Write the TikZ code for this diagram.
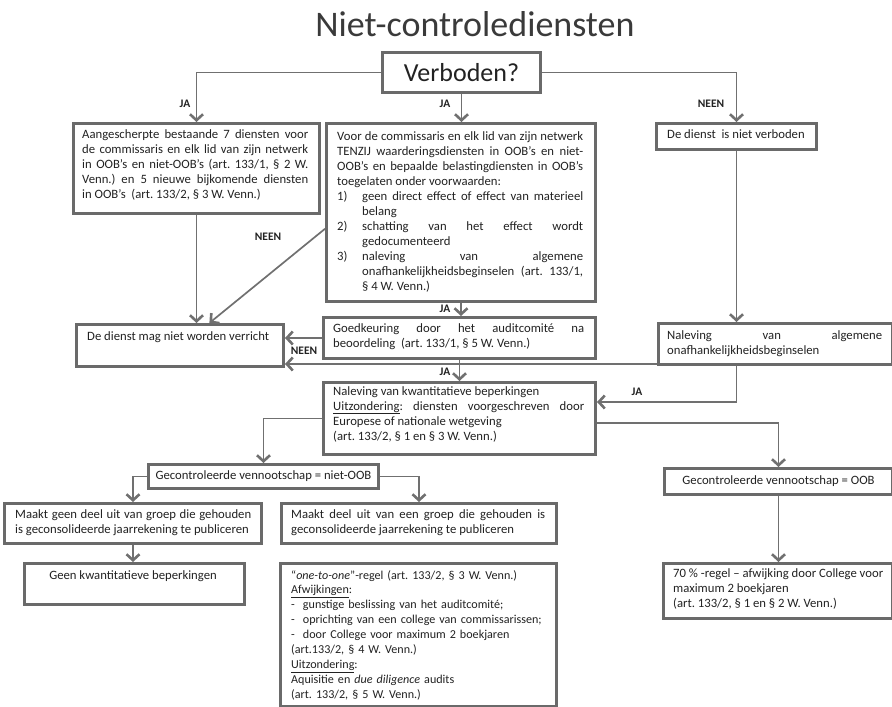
\documentclass[tikz,border=0pt]{standalone}
\usepackage{fontspec}
\setmainfont{Carlito}
\usetikzlibrary{arrows.meta,calc}
\definecolor{bord}{HTML}{6A6A6A}
\definecolor{conn}{HTML}{707070}
\definecolor{ink}{HTML}{222222}
\definecolor{ttl}{HTML}{3A3A3A}
\newcommand\fs{\fontsize{12.7}{15}\selectfont}
\newcommand\fsb{\fontsize{12.1}{14.9}\selectfont}
\frenchspacing
\begin{document}
\frenchspacing
\begin{tikzpicture}[x=1pt,y=-1pt,
 box/.style={draw=bord, line width=3pt, anchor=north west, inner sep=0pt, rectangle, fill=white},
 tx/.style={inner sep=0pt, anchor=north west, font=\fs, text=ink, align=justify},
 ltx/.style={inner sep=0pt, anchor=north west, font=\fs, text=ink, align=left},
 ctx/.style={inner sep=0pt, font=\fs, text=ink, align=center},
 conn/.style={draw=conn, line width=1.7pt, -{Straight Barb[length=6pt,width=13pt,line width=2.6pt]}},
 lab/.style={font=\fontsize{11.5}{13}\selectfont\bfseries, text=ink, inner sep=0pt}]
\useasboundingbox (0,0) rectangle (892,707);

% title
\node[font=\fontsize{36}{42}\selectfont, text=ttl, inner sep=0pt] (title) at (475,24) {Niet-controlediensten};

% boxes
\node[box, minimum width=158pt, minimum height=40pt] (verb) at (381,51) {};
\node[font=\fontsize{26}{30}\selectfont, text=ink, inner sep=0pt] (verbt) at (verb.center) {Verboden?};

\node[box, minimum width=246pt, minimum height=90pt] (b1) at (72,122) {};
\node[tx, text width=226pt] (b1t) at (82,129) {Aangescherpte bestaande 7 diensten voor\linebreak de commissaris en elk lid van zijn netwerk\linebreak in OOB’s en niet-OOB’s (art. 133/1, § 2 W.\linebreak Venn.) en 5 nieuwe bijkomende diensten\linebreak in OOB’s\ \ (art. 133/2, § 3 W. Venn.)};

\node[box, minimum width=269pt, minimum height=178pt] (b2) at (325,122) {};
\node[tx, text width=246pt] (b2t) at (337,131) {Voor de commissaris en elk lid van zijn netwerk\linebreak TENZIJ waarderingsdiensten in OOB’s en niet-\linebreak OOB’s en bepaalde belastingdiensten in OOB’s\linebreak toegelaten onder voorwaarden:\par
\hangindent=25pt\hangafter=1\noindent\makebox[25pt][l]{1)}geen direct effect of effect van materieel\linebreak belang\par
\hangindent=25pt\hangafter=1\noindent\makebox[25pt][l]{2)}schatting van het effect wordt\linebreak gedocumenteerd\par
\hangindent=25pt\hangafter=1\noindent\makebox[25pt][l]{3)}naleving van algemene\linebreak onafhankelijkheidsbeginselen (art. 133/1,\linebreak § 4 W. Venn.)\par};

\node[box, minimum width=160pt, minimum height=26pt] (b3) at (655,122) {};
\node[ltx] (b3t) at (667,129) {De dienst\ \ is niet verboden};

\node[box, minimum width=207pt, minimum height=42pt] (b4) at (75,323) {};
\node[ltx] (b4t) at (87,331) {De dienst mag niet worden verricht};

\node[box, minimum width=272pt, minimum height=41pt] (b5) at (322,316) {};
\node[tx, text width=251pt] (b5t) at (333,323) {Goedkeuring door het auditcomité na\linebreak beoordeling\ \ (art. 133/1, § 5 W. Venn.)};

\node[box, minimum width=234pt, minimum height=41pt] (b6) at (657,322) {};
\node[tx, text width=215pt] (b6t) at (667,330) {Naleving van algemene\linebreak onafhankelijkheidsbeginselen};

\node[box, minimum width=272pt, minimum height=72pt] (b7) at (322,381) {};
\node[tx, text width=251pt] (b7t) at (333,386) {Naleving van kwantitatieve beperkingen\newline \underline{Uitzondering}: diensten voorgeschreven door\linebreak Europese of nationale wetgeving\newline (art. 133/2, § 1 en § 3 W. Venn.)};

\node[box, minimum width=230pt, minimum height=24pt] (b8) at (147,463) {};
\node[ctx] (b8t) at (b8.center) {Gecontroleerde vennootschap = niet-OOB};

\node[box, minimum width=228pt, minimum height=26pt] (b9) at (663,467) {};
\node[ctx] (b9t) at (b9.center) {Gecontroleerde vennootschap = OOB};

\node[box, minimum width=257pt, minimum height=40pt] (b10) at (3,502) {};
\node[tx, text width=236pt] (b10t) at (15,509) {Maakt geen deel uit van groep die gehouden\linebreak is geconsolideerde jaarrekening te publiceren};

\node[box, minimum width=275pt, minimum height=40pt] (b11) at (280,502) {};
\node[tx, text width=254pt] (b11t) at (291,509) {Maakt deel uit van een groep die gehouden is\linebreak geconsolideerde jaarrekening te publiceren};

\node[box, minimum width=220pt, minimum height=41pt] (b12) at (23,562) {};
\node[ctx] (b12t) at (133,576) {Geen kwantitatieve beperkingen};

\node[box, minimum width=276pt, minimum height=143pt] (b13) at (279,562) {};
\node[ltx, font=\fsb, text width=256pt] (b13t) at (291,570) {“\textit{one-to-one}”-regel (art. 133/2, § 3 W. Venn.)\\
\underline{Afwijkingen}:\\
-\ \ gunstige beslissing van het auditcomité;\\
-\ \ oprichting van een college van commissarissen;\\
-\ \ door College voor maximum 2 boekjaren\\
(art.133/2, § 4 W. Venn.)\\
\underline{Uitzondering}:\\
Aquisitie en \textit{due diligence} audits\\
(art. 133/2, § 5 W. Venn.)};

\node[box, minimum width=229pt, minimum height=55pt] (b14) at (662,562) {};
\node[ltx] (b14t) at (673,568) {70 \% -regel – afwijking door College voor\\ maximum 2 boekjaren\\ (art. 133/2, § 1 en § 2 W. Venn.)};

% helper coordinates
\coordinate (dA) at ($(b2.north west)!0.59!(b2.south west)$);
\coordinate (dB) at ($(b4.north west)!0.64!(b4.north east)$);
\coordinate (b6l) at ($(b6.south west)+(0,-2)$);
\coordinate (j1) at ($(b7.north east)+(0,21)$);
\coordinate (j2) at ($(b7.north east)+(0,42)$);

% connectors
\draw[conn] (verb.west) -| (b1.north);
\draw[conn] (verb.south) -- (verb.south |- b2.north);
\draw[conn] (verb.east) -| (b3.north);
\draw[conn] (b1.south) -- (b1.south |- b4.north);
\draw[conn] (dA) -- (dB);
\draw[conn] (b2.south) -- (b2.south |- b5.north);
\draw[conn] (b5.west) -- (b5.west -| b4.east);
\draw[conn] (b3.south) -- (b3.south |- b6.north);
\draw[conn] (b6l) -- (b6l -| b4.east);
\draw[conn] (b5.south) -- (b5.south |- b7.north);
\draw[conn] (b3.south |- b6.south) |- (j1);
\draw[conn] (j2) -| (b9.north);
\draw[conn] (b7.west) -| (b8.north);
\draw[conn] (b8.west) -| (b10.north);
\draw[conn] (b8.east) -| (b11.north);
\draw[conn] (b10.south) -- (b10.south |- b12.north);
\draw[conn] (b9.south) -- (b9.south |- b14.north);

% labels
\node[lab] (l1) at (185,104) {JA};
\node[lab] (l2) at (445,104) {JA};
\node[lab] (l3) at (711,104) {NEEN};
\node[lab] (l4) at (268,237) {NEEN};
\node[lab] (l5) at (445,309) {JA};
\node[lab] (l6) at (304,351) {NEEN};
\node[lab] (l7) at (445,372) {JA};
\node[lab] (l8) at (637,392) {JA};
\end{tikzpicture}
\end{document}
